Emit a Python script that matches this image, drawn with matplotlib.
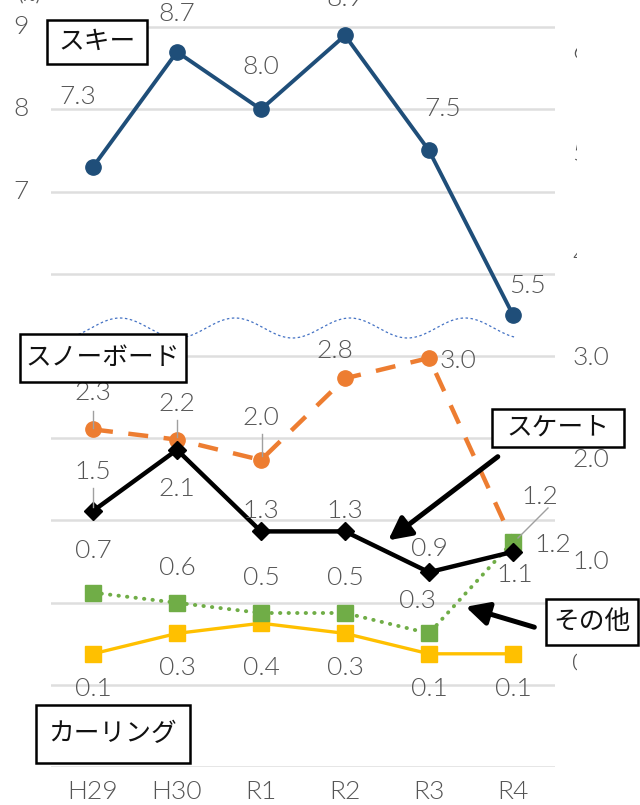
import matplotlib
matplotlib.use("Agg")
import numpy as np
import matplotlib.pyplot as plt
from matplotlib.patches import Rectangle, FancyArrowPatch
from matplotlib.lines import Line2D
from matplotlib.transforms import Bbox

# ---- data ----
years = ["H29", "H30", "R1", "R2", "R3", "R4"]
ski = [7.3, 8.7, 8.0, 8.9, 7.5, 5.5]
snowboard = [2.3, 2.2, 2.0, 2.8, 3.0, 1.2]
skate = [1.5, 2.1, 1.3, 1.3, 0.9, 1.1]
other = [0.7, 0.6, 0.5, 0.5, 0.3, 1.2]
curling = [0.1, 0.3, 0.4, 0.3, 0.1, 0.1]

left_ticks = [7, 8, 9]
right_ticks = [0, 1, 2, 3, 4, 5, 6]
right_tick_text = ["0", "1.0", "2.0", "3.0", "4", "5", "6"]

W, H = 640, 805
NUM_FONT = ["Lato", "DejaVu Sans"]
NUM_WEIGHT = 300
JP_FONT = ["Noto Sans CJK JP", "DejaVu Sans"]
GRAY = "#555555"

fig = plt.figure(figsize=(W / 100, H / 100), dpi=100)
fig.patch.set_facecolor("white")


def fxy(x, y):
    """pixel position (from top-left) -> figure fraction"""
    return x / W, 1 - y / H


# plotting area in pixels
ax_left, ax_right, ax_bottom, ax_top = 51, 555, 767, 0
ax = fig.add_axes([ax_left / W, 1 - ax_bottom / H,
                   (ax_right - ax_left) / W, (ax_bottom - ax_top) / H])
ax.set_xlim(-0.5, 5.5)
px_per_unit_left = 82.2
ax.set_ylim(0, ax_bottom / px_per_unit_left)
ax2 = ax.twinx()
zero_right, px_per_unit_right = 664, 102
ax2.set_ylim((zero_right - ax_bottom) / px_per_unit_right,
             zero_right / px_per_unit_right)

for a in (ax, ax2):
    for s in a.spines.values():
        s.set_visible(False)
    a.set_yticks([])
ax.set_yticks(range(0, 10))
ax.yaxis.grid(True, color="#dedede", lw=1.8)
ax.set_axisbelow(True)
ax.tick_params(axis="y", length=0, labelleft=False)
ax.set_xticks(range(len(years)))
ax.set_xticklabels(years, color=GRAY, fontsize=19, family=NUM_FONT,
                   fontweight=NUM_WEIGHT)
ax.tick_params(axis="x", length=0, pad=9)
ax2.set_zorder(ax.get_zorder() + 1)
ax2.patch.set_visible(False)

x = np.arange(len(years))

# ---- series ----
ax.plot(x, ski, color="#1f4e79", lw=2.8, marker="o", ms=11, zorder=5)
ax2.plot(x, curling, color="#ffc000", lw=2.4, marker="s", ms=11, zorder=3)
ax2.plot(x, snowboard, color="#ed7d31", lw=3.2, ls=(0, (4.5, 3.5)),
         marker="o", ms=11, zorder=4)
ax2.plot(x, other, color="#70ad47", lw=2.8, ls=(0, (0.1, 2.1)),
         dash_capstyle="round", marker="s", ms=11, zorder=5)
ax2.plot(x, skate, color="black", lw=3.2, marker="D", ms=9, zorder=6)

lab = dict(color=GRAY, fontsize=19, family=NUM_FONT, fontweight=NUM_WEIGHT,
           ha="center", va="center", textcoords="offset pixels", zorder=8)

ski_off = [(-15, 70), (0, 38), (0, 42), (0, 36), (14, 42), (14, 29)]
for i, (v, o) in enumerate(zip(ski, ski_off)):
    ax.annotate(f"{v:.1f}", (i, v), xytext=o, **lab)

sb_off = [(0, 36), (0, 36), (0, 42), (-10, 27), (29, -3), (27, 45)]
for i, (v, o) in enumerate(zip(snowboard, sb_off)):
    ax2.annotate(f"{v:.1f}", (i, v), xytext=o, **lab)

sk_off = [(0, 39), (0, -39), (0, 20), (0, 20), (0, 23), (2, -23)]
for i, (v, o) in enumerate(zip(skate, sk_off)):
    ax2.annotate(f"{v:.1f}", (i, v), xytext=o, **lab)

ot_off = [(0, 42), (0, 35), (0, 35), (0, 35), (-12, 32), (40, -3)]
for i, (v, o) in enumerate(zip(other, ot_off)):
    ax2.annotate(f"{v:.1f}", (i, v), xytext=o, **lab)

cu_off = [(0, -35), (0, -35), (0, -45), (0, -35), (0, -35), (0, -35)]
for i, (v, o) in enumerate(zip(curling, cu_off)):
    ax2.annotate(f"{v:.1f}", (i, v), xytext=o, **lab)

# leader lines from labels to their points
leaders = [((93, 411), (93, 428)), ((177, 420), (177, 437)),
           ((262, 434), (262, 456)), ((93, 488), (93, 507)),
           ((548, 508), (518, 538))]
for p0, p1 in leaders:
    (x0, y0), (x1, y1) = fxy(*p0), fxy(*p1)
    fig.add_artist(Line2D([x0, x1], [y0, y1], color="#a0a0a0", lw=1,
                          transform=fig.transFigure, zorder=7))

# ---- axis labels ----
for v in left_ticks:
    yy = ax_bottom - v * px_per_unit_left
    fig.text(*fxy(21, yy), str(v), color=GRAY, fontsize=19, family=NUM_FONT,
             fontweight=NUM_WEIGHT, ha="center", va="center")

clip = Bbox.from_extents(0, 0, 577, H)
for v, t in zip(right_ticks, right_tick_text):
    yy = zero_right - v * px_per_unit_right
    txt = fig.text(*fxy(572, yy), t, color=GRAY, fontsize=19, family=NUM_FONT,
                   fontweight=NUM_WEIGHT, ha="left", va="center")
    if "." not in t:
        txt.set_clip_on(True)
        txt.set_clip_box(clip)

fig.text(*fxy(18, 4), "(%)", color=GRAY, fontsize=12, family=NUM_FONT,
         ha="left", va="bottom")

# ---- break marker between the two scales ----
wx = np.linspace(64, 516, 400)
wy = 328 - 10 * np.cos(2 * np.pi * (wx - 120) / 115)
pts = [fxy(a, b) for a, b in zip(wx, wy)]
fig.add_artist(Line2D([p[0] for p in pts], [p[1] for p in pts],
                      color="#4472c4", lw=0.9, ls=(0, (2, 2)),
                      transform=fig.transFigure, zorder=3))

# ---- category boxes ----
boxes = [("スキー", 47, 20, 147, 64),
         ("スノーボード", 20, 334, 186, 382),
         ("スケート", 492, 409, 624, 447),
         ("その他", 546, 599, 638, 645),
         ("カーリング", 36, 705, 190, 763)]
for name, x0, y0, x1, y1 in boxes:
    bx, by = fxy(x0, y1)
    fig.add_artist(Rectangle((bx, by), (x1 - x0) / W, (y1 - y0) / H,
                             transform=fig.transFigure, facecolor="white",
                             edgecolor="black", lw=1.8, zorder=9))
    fig.text(*fxy((x0 + x1) / 2, (y0 + y1) / 2), name, fontsize=18.5,
             family=JP_FONT, color="#111111", ha="center", va="center",
             zorder=10)

# ---- arrows ----
for tail, head in [((500, 455), (386, 542)), ((537, 628), (463, 606))]:
    fig.add_artist(FancyArrowPatch(fxy(*tail), fxy(*head),
                                   transform=fig.transFigure,
                                   arrowstyle="-|>,head_length=0.55,head_width=0.28",
                                   mutation_scale=25,
                                   lw=3.6, color="black", zorder=9))

fig.savefig("out.png", dpi=100, facecolor="white")
